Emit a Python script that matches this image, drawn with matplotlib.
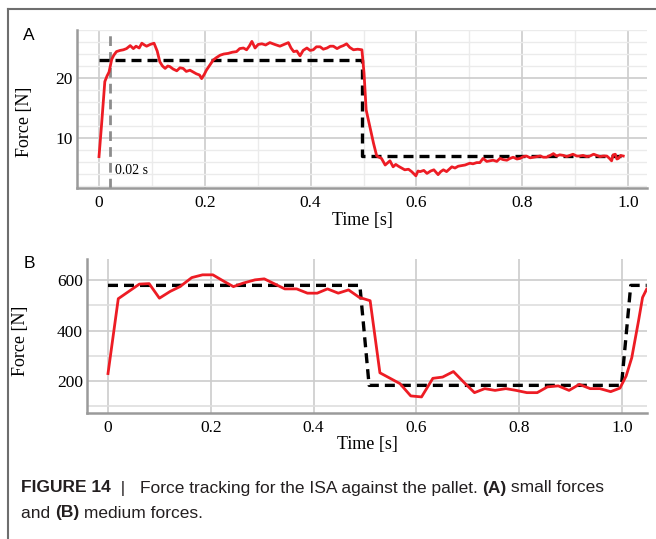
import numpy as np
import matplotlib.pyplot as plt
from matplotlib.lines import Line2D
from matplotlib.ticker import MultipleLocator

# --- data: panel A (small forces) ---
ref_a_t = [0.0, 0.497, 0.497, 0.99]
ref_a_f = [23.0, 23.0, 7.0, 7.0]

force_a_t = [0.0, 0.005, 0.011, 0.015, 0.019, 0.024, 0.028, 0.033, 0.040, 0.046, 0.052,
             0.059, 0.065, 0.070, 0.076, 0.081, 0.086, 0.090, 0.097, 0.104, 0.110,
             0.115, 0.120, 0.125, 0.130, 0.134, 0.140, 0.147, 0.153, 0.159, 0.165,
             0.172, 0.178, 0.184, 0.190, 0.194, 0.199, 0.203, 0.210, 0.216, 0.222,
             0.229, 0.236, 0.244, 0.252, 0.260, 0.266, 0.273, 0.279, 0.284, 0.289,
             0.295, 0.301, 0.308, 0.315, 0.323, 0.332, 0.342, 0.350, 0.358, 0.363,
             0.368, 0.374, 0.380, 0.386, 0.393, 0.399, 0.405, 0.411, 0.418, 0.424,
             0.431, 0.437, 0.443, 0.450, 0.456, 0.462, 0.468, 0.474, 0.481, 0.489,
             0.497, 0.501, 0.505, 0.512, 0.519, 0.525, 0.534, 0.541, 0.550, 0.556,
             0.561, 0.566, 0.572, 0.578, 0.585, 0.591, 0.599, 0.603, 0.607, 0.614,
             0.620, 0.627, 0.633, 0.641, 0.646, 0.651, 0.657, 0.662, 0.667, 0.673,
             0.679, 0.686, 0.692, 0.701, 0.707, 0.714, 0.720, 0.726, 0.733, 0.739,
             0.745, 0.752, 0.758, 0.764, 0.771, 0.777, 0.783, 0.790, 0.796, 0.802,
             0.808, 0.815, 0.821, 0.828, 0.834, 0.840, 0.846, 0.853, 0.859, 0.865,
             0.871, 0.878, 0.884, 0.890, 0.896, 0.903, 0.909, 0.915, 0.922, 0.928,
             0.935, 0.941, 0.947, 0.953, 0.960, 0.965, 0.969, 0.972, 0.976, 0.979,
             0.982, 0.986, 0.991]
force_a_f = [6.9, 12.4, 19.4, 20.3, 21.0, 23.1, 23.8, 24.4, 24.6, 24.7, 24.9,
             25.4, 24.9, 25.3, 25.0, 25.8, 25.5, 25.3, 25.6, 25.8, 24.5,
             22.7, 22.0, 21.6, 22.0, 21.9, 21.5, 21.2, 21.7, 21.6, 21.1,
             21.3, 21.0, 20.7, 20.5, 19.9, 20.6, 21.3, 22.2, 23.0, 23.4,
             23.8, 24.0, 24.1, 24.3, 24.4, 24.9, 25.0, 24.7, 25.3, 26.1,
             25.0, 25.6, 25.7, 25.5, 25.9, 25.6, 25.3, 25.6, 25.9, 25.0,
             24.4, 24.5, 23.7, 24.6, 25.0, 24.6, 24.7, 25.2, 25.2, 24.8,
             25.0, 25.3, 25.3, 24.9, 25.2, 25.4, 25.7, 25.1, 24.7, 24.8,
             24.7, 20.8, 14.7, 11.9, 9.1, 7.0, 6.6, 5.5, 6.2, 5.2,
             5.6, 5.3, 5.0, 4.7, 4.8, 4.4, 3.7, 4.5, 4.4, 4.6,
             4.1, 4.5, 4.7, 3.9, 4.4, 4.7, 4.4, 4.8, 5.2, 5.0,
             5.3, 5.4, 5.5, 5.8, 5.7, 5.9, 5.9, 6.6, 6.1, 6.2,
             6.3, 6.1, 6.6, 6.4, 6.3, 6.6, 6.8, 6.5, 6.6, 6.9,
             7.0, 6.7, 6.8, 6.9, 7.0, 6.8, 6.8, 7.1, 7.4, 7.0,
             7.2, 7.1, 6.9, 7.1, 7.3, 7.0, 7.0, 7.1, 6.9, 7.0,
             7.3, 7.1, 6.9, 7.0, 7.0, 6.6, 6.2, 7.2, 7.3, 6.5,
             6.6, 7.1, 7.0]

# --- data: panel B (medium forces) ---
ref_b_t = [0.0, 0.490, 0.508, 0.999, 1.017, 1.048]
ref_b_f = [580, 580, 182, 182, 580, 580]

force_b_t = [0.0, 0.020, 0.061, 0.080, 0.100, 0.121, 0.140, 0.163, 0.184, 0.204,
             0.224, 0.244, 0.263, 0.286, 0.304, 0.325, 0.344, 0.367, 0.388, 0.407,
             0.427, 0.448, 0.468, 0.489, 0.510, 0.529, 0.549, 0.568, 0.589, 0.610,
             0.632, 0.651, 0.672, 0.693, 0.713, 0.733, 0.753, 0.774, 0.794, 0.815,
             0.835, 0.855, 0.876, 0.897, 0.917, 0.938, 0.957, 0.978, 0.996, 1.008,
             1.019, 1.032, 1.040, 1.048]
force_b_f = [229, 527, 585, 587, 529, 556, 575, 611, 622, 622,
             598, 575, 589, 602, 606, 585, 566, 566, 549, 549,
             566, 549, 562, 532, 519, 232, 210, 189, 140, 136,
             210, 215, 237, 193, 153, 169, 162, 169, 162, 153,
             153, 176, 180, 162, 186, 169, 169, 157, 171, 219,
             292, 437, 532, 565]

caption_1 = [("FIGURE 14", "bold"), ("  |   ", "normal"),
             ("Force tracking for the ISA against the pallet. ", "normal"),
             ("(A)", "bold"), (" small forces", "normal")]
caption_2 = [("and ", "normal"), ("(B)", "bold"), (" medium forces.", "normal")]

RED = "#ed1c24"
SERIF = "Liberation Serif"
SANS = "Liberation Sans"

fig = plt.figure(figsize=(6.56, 5.39), dpi=100)
W, H = 656, 539


def px_axes(left, top, right, bottom):
    return fig.add_axes([left / W, 1 - bottom / H, (right - left) / W, (bottom - top) / H])


def style_axes(ax):
    for side in ("top", "right"):
        ax.spines[side].set_visible(False)
    for side in ("left", "bottom"):
        ax.spines[side].set_color("#9a9a9a")
        ax.spines[side].set_linewidth(1.8)
    ax.tick_params(which="both", length=0, labelsize=12.5)
    ax.tick_params(axis="x", pad=5)
    ax.tick_params(axis="y", pad=3)
    for lab in ax.get_xticklabels() + ax.get_yticklabels():
        lab.set_fontfamily(SERIF)
    ax.grid(which="major", color="#cccccc", linewidth=1.2)
    ax.grid(which="minor", color="#ebebeb", linewidth=1.0)
    ax.set_axisbelow(True)


def tick_fmt(v, _):
    return "0" if abs(v) < 1e-9 else f"{v:.1f}"


# ---- panel A ----
ax_a = px_axes(77, 30, 647, 188)
ax_a.set_xlim((77 - 99) / 529, (647 - 99) / 529)
ax_a.set_ylim(1.67, 28.0)
ax_a.xaxis.set_major_locator(MultipleLocator(0.2))
ax_a.xaxis.set_minor_locator(MultipleLocator(0.1))
ax_a.yaxis.set_major_locator(MultipleLocator(10))
ax_a.yaxis.set_minor_locator(MultipleLocator(2))
ax_a.xaxis.set_major_formatter(tick_fmt)
ax_a.yaxis.set_major_formatter(lambda v, _: f"{v:.0f}")
ax_a.set_yticks([10, 20])
ax_a.axvline(0.02, color="#8c8c8c", linewidth=2, linestyle=(0, (3.5, 2.2)), zorder=2)
ax_a.plot(ref_a_t, ref_a_f, color="black", linewidth=2.4, linestyle=(0, (3, 1.8)), zorder=3)
ax_a.plot(force_a_t, force_a_f, color=RED, linewidth=2.0, zorder=4)
ax_a.text(0.030, 4.6, "0.02 s", fontfamily=SERIF, fontsize=10, va="center", ha="left")
style_axes(ax_a)
ax_a.set_xlabel("Time [s]", fontfamily=SERIF, fontsize=13, labelpad=1)
ax_a.set_ylabel("Force [N]", fontfamily=SERIF, fontsize=13)
ax_a.yaxis.set_label_coords(-0.077, 0.42)

# ---- panel B ----
ax_b = px_axes(87, 259, 647, 413)
ax_b.set_xlim((87 - 108) / 514, (647 - 108) / 514)
ax_b.set_ylim(72, 685)
ax_b.xaxis.set_major_locator(MultipleLocator(0.2))
ax_b.yaxis.set_major_locator(MultipleLocator(200))
ax_b.yaxis.set_minor_locator(MultipleLocator(100))
ax_b.xaxis.set_major_formatter(tick_fmt)
ax_b.yaxis.set_major_formatter(lambda v, _: f"{v:.0f}")
ax_b.set_yticks([200, 400, 600])
ax_b.plot(ref_b_t, ref_b_f, color="black", linewidth=2.4, linestyle=(0, (3, 1.8)), zorder=3)
ax_b.plot(force_b_t, force_b_f, color=RED, linewidth=2.0, zorder=4)
style_axes(ax_b)
ax_b.grid(which="minor", axis="y", color="#dedede", linewidth=1.2)
ax_b.set_xlabel("Time [s]", fontfamily=SERIF, fontsize=13, labelpad=0)
ax_b.set_ylabel("Force [N]", fontfamily=SERIF, fontsize=13)
ax_b.yaxis.set_label_coords(-0.103, 0.47)

# panel letters
fig.text(29 / W, 1 - 35 / H, "A", fontfamily=SANS, fontsize=12.5, ha="center", va="center")
fig.text(29 / W, 1 - 264 / H, "B", fontfamily=SANS, fontsize=12.5, ha="center", va="center")

# outer frame (left and top edges)
frame_kw = dict(color="#6e6e6e", linewidth=1.5, transform=fig.transFigure)
fig.add_artist(Line2D([8 / W, 8 / W], [0, 1 - 9 / H], **frame_kw))
fig.add_artist(Line2D([8 / W, 1], [1 - 9 / H, 1 - 9 / H], **frame_kw))

# caption, written run by run so bold and normal text share a line
renderer = fig.canvas.get_renderer()


def write_runs(runs, x0, y0):
    x = x0
    for text, weight in runs:
        t = fig.text(x / W, 1 - y0 / H, text, fontfamily=SANS, fontsize=12.5,
                     fontweight=weight, color="#231f20", va="center", ha="left")
        x += t.get_window_extent(renderer).width


write_runs(caption_1, 21, 488)
write_runs(caption_2, 21, 513)

fig.savefig("out.png", dpi=100)
